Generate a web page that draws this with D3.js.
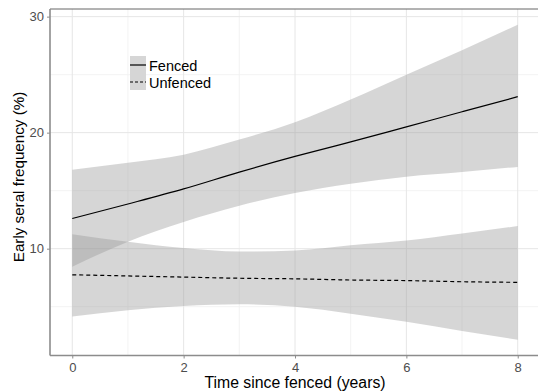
<!DOCTYPE html>
<html>
<head>
<meta charset="utf-8">
<script src="https://cdn.jsdelivr.net/npm/d3@7"></script>
<style>
  body { margin: 0; background: #fff; }
  svg { display: block; font-family: "Liberation Sans", Arial, sans-serif; }
</style>
</head>
<body>
<svg width="538" height="391"></svg>
<script>
var years = [0, 1, 2, 3, 4, 5, 6, 7, 8]
var fencedFit = [12.6, 13.85, 15.15, 16.6, 17.95, 19.2, 20.5, 21.8, 23.1]
var fencedLo = [8.45, 10.6, 12.3, 13.7, 14.8, 15.6, 16.2, 16.6, 17.05]
var fencedHi = [16.8, 17.4, 18.1, 19.4, 20.9, 22.85, 25.0, 27.1, 29.3]
var unfencedFit = [7.75, 7.65, 7.55, 7.45, 7.4, 7.3, 7.25, 7.15, 7.1]
var unfencedLo = [4.15, 4.7, 5.05, 5.2, 5.0, 4.4, 3.7, 2.9, 2.15]
var unfencedHi = [11.25, 10.6, 10.05, 9.75, 9.85, 10.3, 10.7, 11.3, 11.95]
var xTicks = [0, 2, 4, 6, 8]
var xMinor = [1, 3, 5, 7]
var yTicks = [10, 20, 30]
var yMinor = [5, 15, 25]
var legendLabels = ["Fenced", "Unfenced"]

var width = 538
var height = 391
var margin = {top: 9, right: -2, bottom: 35.5, left: 50}

var svg = d3.select("svg")

var allVals = fencedLo.concat(fencedHi, unfencedLo, unfencedHi)
var lo = d3.min(allVals), hi = d3.max(allVals)
var pad = (hi - lo) * 0.05

var x = d3.scaleLinear()
  .domain([-0.4, 8.4])
  .range([margin.left, width - margin.right])

var y = d3.scaleLinear()
  .domain([lo - pad, hi + pad])
  .range([height - margin.bottom, margin.top])

// grid
var grid = svg.append("g")
grid.selectAll(".xminor").data(xMinor).join("line")
  .attr("x1", d => x(d)).attr("x2", d => x(d))
  .attr("y1", y.range()[0]).attr("y2", y.range()[1])
  .attr("stroke", "#f0f0f0").attr("stroke-width", 0.8)
grid.selectAll(".yminor").data(yMinor).join("line")
  .attr("y1", d => y(d)).attr("y2", d => y(d))
  .attr("x1", x.range()[0]).attr("x2", x.range()[1])
  .attr("stroke", "#f0f0f0").attr("stroke-width", 0.8)
grid.selectAll(".xmajor").data(xTicks).join("line")
  .attr("x1", d => x(d)).attr("x2", d => x(d))
  .attr("y1", y.range()[0]).attr("y2", y.range()[1])
  .attr("stroke", "#e6e6e6").attr("stroke-width", 1)
grid.selectAll(".ymajor").data(yTicks).join("line")
  .attr("y1", d => y(d)).attr("y2", d => y(d))
  .attr("x1", x.range()[0]).attr("x2", x.range()[1])
  .attr("stroke", "#e6e6e6").attr("stroke-width", 1)

// ribbons
var area = (l, h) => d3.area()
  .x((d, i) => x(years[i]))
  .y0((d, i) => y(l[i]))
  .y1((d, i) => y(h[i]))
  .curve(d3.curveMonotoneX)(years)

svg.append("path").attr("d", area(fencedLo, fencedHi))
  .attr("fill", "#999").attr("fill-opacity", 0.4)
svg.append("path").attr("d", area(unfencedLo, unfencedHi))
  .attr("fill", "#999").attr("fill-opacity", 0.4)

var line = vals => d3.line()
  .x((d, i) => x(years[i]))
  .y((d, i) => y(vals[i]))
  .curve(d3.curveMonotoneX)(years)

svg.append("path").attr("d", line(fencedFit))
  .attr("fill", "none").attr("stroke", "#000").attr("stroke-width", 1.2)
svg.append("path").attr("d", line(unfencedFit))
  .attr("fill", "none").attr("stroke", "#000").attr("stroke-width", 1.2)
  .attr("stroke-dasharray", "4,3")

// panel border
svg.append("line")
  .attr("x1", margin.left).attr("x2", width)
  .attr("y1", margin.top).attr("y2", margin.top)
  .attr("stroke", "#666").attr("stroke-width", 1)

// axes
var xAxis = g => g
  .attr("transform", `translate(0,${height - margin.bottom})`)
  .call(d3.axisBottom(x).tickValues(xTicks).tickSize(3).tickPadding(4))
var yAxis = g => g
  .attr("transform", `translate(${margin.left},0)`)
  .call(d3.axisLeft(y).tickValues(yTicks).tickSize(3).tickPadding(3))

var gx = svg.append("g").call(xAxis)
var gy = svg.append("g").call(yAxis)
;[gx, gy].forEach(g => {
  g.select(".domain").attr("stroke", "#8c8c8c").attr("stroke-width", 1.6)
  g.selectAll(".tick line").attr("stroke", "#8c8c8c")
  g.selectAll(".tick text").attr("fill", "#4d4d4d")
    .style("font-size", "13px").style("font-family", "Liberation Sans, Arial, sans-serif")
})
gy.select(".domain").attr("d", `M0,${y.range()[0]}V${y.range()[1]}`)
gx.select(".domain").attr("d", `M${x.range()[0]},0H${x.range()[1]}`)

// axis titles
svg.append("text")
  .attr("x", 295).attr("y", 388)
  .attr("text-anchor", "middle")
  .style("font-size", "15.8px")
  .text("Time since fenced (years)")

svg.append("text")
  .attr("transform", "translate(24,177) rotate(-90)")
  .attr("text-anchor", "middle")
  .style("font-size", "15.2px")
  .text("Early seral frequency (%)")

// legend
var leg = svg.append("g").attr("transform", "translate(130,56)")
leg.append("rect").attr("width", 16).attr("height", 34).attr("fill", "#d6d6d6")
leg.selectAll(".key").data(legendLabels).join("line")
  .attr("x1", 0).attr("x2", 16)
  .attr("y1", (d, i) => 9 + i * 17).attr("y2", (d, i) => 9 + i * 17)
  .attr("stroke", "#000").attr("stroke-width", 1.2)
  .attr("stroke-dasharray", (d, i) => i ? "3,2" : null)
leg.selectAll(".lab").data(legendLabels).join("text")
  .attr("x", 19).attr("y", (d, i) => 14.5 + i * 17)
  .style("font-size", "14.5px")
  .text(d => d)
</script>
</body>
</html>
